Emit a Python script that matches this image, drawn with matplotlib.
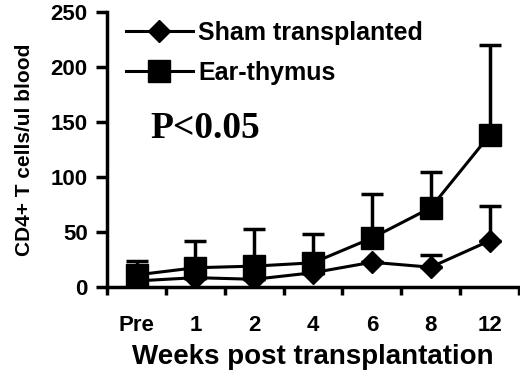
import numpy as np
import matplotlib.pyplot as plt
from matplotlib.lines import Line2D

weeks = ["Pre", "1", "2", "4", "6", "8", "12"]
sham_mean = [5.5, 8.5, 7, 13, 22.5, 18, 42]
sham_err = [0, 0, 0, 0, 0, 11, 31.5]
ear_mean = [11, 17.5, 19, 22, 44.5, 72, 138]
ear_err = [13, 24.5, 34, 26, 40.5, 33, 82]

plt.rcParams['font.family'] = ['Liberation Sans', 'DejaVu Sans']
plt.rcParams['font.weight'] = 'bold'

fig = plt.figure(figsize=(5.2, 3.72), dpi=100)
ax = fig.add_axes([0.206, 0.2285, 0.792, 0.739])

x = np.arange(len(weeks))
ax.errorbar(x, sham_mean, yerr=[np.zeros(len(x)), sham_err], color="black",
            marker="D", markersize=11, linewidth=2.2, elinewidth=2.5,
            capsize=8, capthick=2.5, zorder=3)
ax.errorbar(x, ear_mean, yerr=[np.zeros(len(x)), ear_err], color="black",
            marker="s", markersize=16, linewidth=2.2, elinewidth=2.5,
            capsize=8, capthick=2.5, zorder=4)

ax.set_xlim(-0.5, len(weeks) - 0.5)
ax.set_ylim(0, 250)
ax.set_yticks([0, 50, 100, 150, 200, 250])
ax.set_xticks(x)
ax.set_xticklabels(weeks)
ax.set_xticks(np.arange(len(weeks) + 1) - 0.5, minor=True)
ax.tick_params(axis="x", which="major", length=0, pad=20, labelsize=16)
ax.tick_params(axis="x", which="minor", length=6, width=2.5)
ax.tick_params(axis="y", length=8, width=2.5, pad=6, labelsize=16)

for side in ["top", "right"]:
    ax.spines[side].set_visible(False)
for side in ["left", "bottom"]:
    ax.spines[side].set_linewidth(2.5)

ax.set_xlabel("Weeks post transplantation", fontsize=20, fontweight="bold", labelpad=6)
ax.set_ylabel("CD4+ T cells/ul blood", fontsize=15, fontweight="bold", labelpad=12)

ax.text(0.23, 144, "P<0.05", family="Liberation Serif", fontsize=27,
        fontweight="bold", ha="left", va="center")

handles = [Line2D([], [], color="black", marker="D", markersize=11, linewidth=2.2),
           Line2D([], [], color="black", marker="s", markersize=16, linewidth=2.2)]
ax.legend(handles, ["Sham transplanted", "Ear-thymus"], loc="upper left",
          bbox_to_anchor=(-0.01, 1.05), frameon=False, fontsize=18,
          handlelength=2.7, labelspacing=0.65, handletextpad=0.2)

fig.savefig("out.png", dpi=100)
